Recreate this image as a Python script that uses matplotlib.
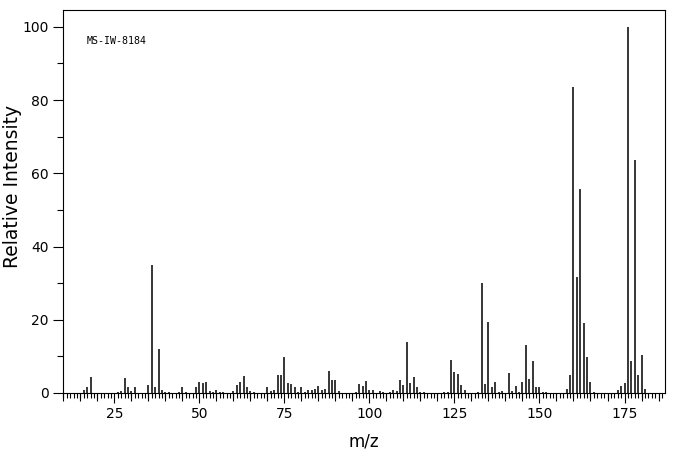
"""
MS-IW-8184 질량 스펙트럼 재현
"""
import matplotlib
matplotlib.use('Agg')
import matplotlib.pyplot as plt

# m/z 와 상대 강도
mz = [16, 17, 18, 26, 27, 28, 29, 30, 31, 35, 36, 37, 38, 39, 40, 41,
      44, 45, 46, 49, 50, 51, 52, 53, 54, 55, 56, 57, 60, 61, 62, 63,
      64, 65, 66, 70, 71, 72, 73, 74, 75, 76, 77, 78, 79, 80, 81, 82,
      83, 84, 85, 86, 87, 88, 89, 90, 91, 96, 97, 98, 99, 100, 101, 103,
      104, 106, 107, 108, 109, 110, 111, 112, 113, 114, 115, 116, 122, 123, 124, 125,
      126, 127, 128, 132, 133, 134, 135, 136, 137, 138, 139, 141, 142, 143, 144, 145,
      146, 147, 148, 149, 150, 151, 152, 158, 159, 160, 161, 162, 163, 164, 165, 166,
      173, 174, 175, 176, 177, 178, 179, 180, 181]
intensity = [0.8, 1.6, 4.5, 0.4, 0.5, 4.2, 1.7, 0.6, 1.5, 2.2, 35.0, 1.7, 12.0, 0.8, 0.4, 0.3,
             0.4, 1.5, 0.4, 1.5, 3.1, 2.6, 3.0, 0.5, 0.4, 0.8, 0.4, 0.4, 0.5, 2.2, 3.0, 4.7,
             1.5, 0.5, 0.4, 1.5, 0.5, 0.8, 4.9, 4.9, 9.9, 2.6, 2.5, 1.5, 0.4, 1.5, 0.4, 0.8,
             0.8, 1.1, 1.9, 0.8, 1.1, 6.0, 3.6, 3.6, 0.5, 0.4, 2.5, 2.0, 3.3, 0.8, 0.8, 0.5,
             0.4, 0.4, 0.8, 0.5, 3.5, 2.2, 14.0, 2.6, 4.4, 1.6, 0.2, 0.2, 0.4, 0.4, 9.0, 5.8,
             5.3, 2.2, 0.8, 0.4, 30.0, 2.5, 19.5, 1.6, 3.0, 0.4, 0.5, 5.4, 0.5, 2.0, 0.4, 3.0,
             13.1, 3.9, 8.7, 1.5, 1.5, 0.4, 0.2, 1.0, 4.9, 83.5, 31.8, 55.7, 19.1, 9.9, 3.1, 0.4,
             0.8, 1.9, 2.6, 100.0, 8.8, 63.7, 4.9, 10.4, 1.0]

x_labels = [25, 50, 75, 100, 125, 150, 175]
y_labels = [0, 20, 40, 60, 80, 100]
sample_id = 'MS-IW-8184'

fig = plt.figure(figsize=(6.76, 4.55), dpi=100)
ax = fig.add_axes([0.0932, 0.1363, 0.8905, 0.8417])

ax.vlines(mz, 0, intensity, colors='black', linewidth=1.1)

ax.set_xlim(9.9, 186.9)
ax.set_ylim(0, 104.6)

for sp in ax.spines.values():
    sp.set_linewidth(0.8)

# x축 눈금: 1 단위 작은 눈금, 25 단위 큰 눈금
ax.set_xticks(x_labels)
ax.set_xticks(range(10, 187), minor=True)
ax.tick_params(axis='x', which='major', length=7.4, width=0.8, pad=3, labelsize=10)
ax.tick_params(axis='x', which='minor', length=3.8, width=0.8)

# 5 단위 중간 눈금은 보조 축으로
sec = ax.secondary_xaxis('bottom')
sec.set_xticks([v for v in range(10, 187, 5) if v % 25 != 0])
sec.tick_params(length=5.5, width=0.8, labelbottom=False)
sec.spines['bottom'].set_visible(False)

ax.set_yticks(y_labels)
ax.set_yticks(range(0, 101, 10), minor=True)
ax.tick_params(axis='y', which='major', length=7.4, width=0.8, pad=3, labelsize=10)
ax.tick_params(axis='y', which='minor', length=4, width=0.8)

ax.set_xlabel('m/z', fontsize=12, labelpad=8)
ax.set_ylabel('Relative Intensity', fontsize=13.5)
ax.yaxis.set_label_coords(-0.068, 0.54)

ax.text(0.04, 0.919, sample_id, transform=ax.transAxes, fontsize=7.2,
        family='DejaVu Sans Mono', va='center', ha='left')

fig.savefig('out.png', dpi=100)
